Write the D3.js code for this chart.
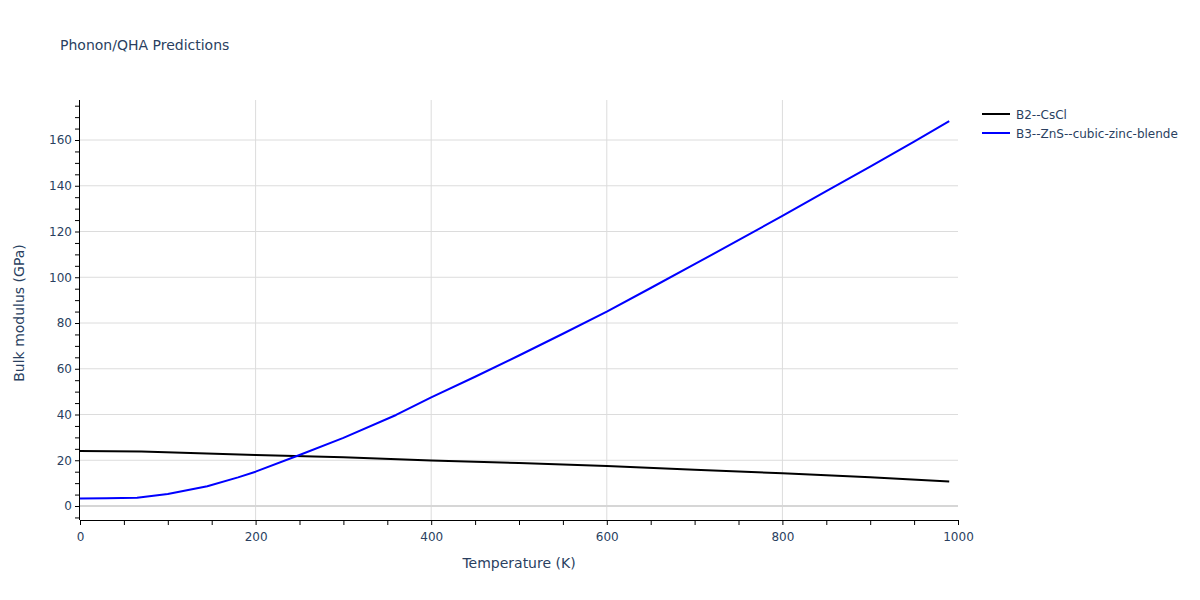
<!DOCTYPE html>
<html><head><meta charset="utf-8">
<script src="https://cdn.jsdelivr.net/npm/d3@7"></script>
<style>body{margin:0;background:#fff}text{font-family:"DejaVu Sans",verdana,arial,sans-serif}</style>
</head><body><div id="chart"></div>
<script>
const seriesNames = ["B2--CsCl", "B3--ZnS--cubic-zinc-blende"];
const seriesColors = ["#000000", "#0000ff"];
const tempB2 = [0, 70, 200, 300, 400, 500, 600, 700, 800, 900, 990];
const bulkB2 = [24.0, 23.8, 22.3, 21.3, 19.9, 18.8, 17.5, 15.9, 14.3, 12.6, 10.7];
const tempB3 = [0, 30, 65, 100, 145, 180, 200, 250, 300, 360, 400, 450, 500, 550, 600, 650, 700, 750, 800, 850, 900, 950, 990];
const bulkB3 = [3.3, 3.4, 3.6, 5.2, 8.6, 12.5, 15.0, 22.3, 29.8, 39.8, 47.5, 56.5, 65.8, 75.3, 85.0, 95.3, 105.7, 116.2, 126.8, 137.6, 148.4, 159.3, 168.3];
const xTicks = [0, 200, 400, 600, 800, 1000];
const yTicks = [0, 20, 40, 60, 80, 100, 120, 140, 160];
const titleText = "Phonon/QHA Predictions";
const xTitle = "Temperature (K)";
const yTitle = "Bulk modulus (GPa)";

const W = 1200, H = 600;
const L = 80, R = 958, T = 100, B = 520;
const textColor = "#2a3f5f";
const font = '"DejaVu Sans",verdana,arial,sans-serif';
const svg = d3.select("#chart").append("svg").attr("width", W).attr("height", H);
const x = d3.scaleLinear().domain([0, 1000]).range([L, R]);
const y = d3.scaleLinear().domain([0, 160]).range([506, 140]);

// grid
svg.append("g").selectAll("line").data(xTicks.filter(d => d > 0 && d < 1000)).join("line")
  .attr("x1", d => x(d)).attr("x2", d => x(d)).attr("y1", T).attr("y2", B)
  .attr("stroke", "#dcdcdc").attr("stroke-width", 1);
svg.append("g").selectAll("line").data(yTicks.filter(d => d !== 0)).join("line")
  .attr("x1", L).attr("x2", R).attr("y1", d => y(d)).attr("y2", d => y(d))
  .attr("stroke", "#dcdcdc").attr("stroke-width", 1);
svg.append("line").attr("x1", L).attr("x2", R).attr("y1", y(0)).attr("y2", y(0))
  .attr("stroke", "#d6d6d6").attr("stroke-width", 2);

// lines
const series = [[tempB2, bulkB2], [tempB3, bulkB3]];
const line = d3.line().x(d => x(d[0])).y(d => y(d[1]));
series.forEach((s, i) => {
  const pts = s[0].map((t, j) => [t, s[1][j]]);
  svg.append("path").datum(pts).attr("d", line).attr("fill", "none")
    .attr("stroke", seriesColors[i]).attr("stroke-width", 2).attr("stroke-linejoin", "round");
});

// axes
const xAxis = d3.axisBottom(x).tickValues(d3.range(0, 1001, 50)).tickSize(5)
  .tickFormat(d => xTicks.includes(d) ? d : "");
const gx = svg.append("g").attr("transform", `translate(0,${B})`).call(xAxis);
gx.select(".domain").attr("stroke", "#000").attr("d", `M${L},0.5H${R}`);
gx.selectAll(".tick line").attr("stroke", "#000");
gx.selectAll(".tick text").attr("fill", textColor).attr("font-size", 12).attr("dy", "1.1em")
  .attr("font-family", font);

const yTickVals = d3.range(-5, 176, 5);
const yAxis = d3.axisLeft(y).tickValues(yTickVals).tickSize(5)
  .tickFormat(d => yTicks.includes(d) ? d : "");
const gy = svg.append("g").attr("transform", `translate(${L},0)`).call(yAxis);
gy.select(".domain").attr("stroke", "#000").attr("d", `M-0.5,${T}V${B}`);
gy.selectAll(".tick line").attr("stroke", "#000");
gy.selectAll(".tick text").attr("fill", textColor).attr("font-size", 12).attr("x", -8)
  .attr("font-family", font);

// titles
svg.append("text").attr("x", 60).attr("y", 50).attr("fill", textColor).attr("font-size", 14).text(titleText);
svg.append("text").attr("x", (L + R) / 2).attr("y", 568).attr("text-anchor", "middle")
  .attr("fill", textColor).attr("font-size", 14).text(xTitle);
svg.append("text").attr("transform", `translate(24,${(T + B) / 2 + 3}) rotate(-90)`).attr("text-anchor", "middle")
  .attr("fill", textColor).attr("font-size", 14).text(yTitle);

// legend
seriesNames.forEach((n, i) => {
  const ly = 114 + i * 19;
  svg.append("line").attr("x1", 982).attr("x2", 1010).attr("y1", ly).attr("y2", ly)
    .attr("stroke", seriesColors[i]).attr("stroke-width", 2);
  svg.append("text").attr("x", 1016).attr("y", ly + 4.5).attr("fill", textColor).attr("font-size", 12).text(n);
});
</script></body></html>
